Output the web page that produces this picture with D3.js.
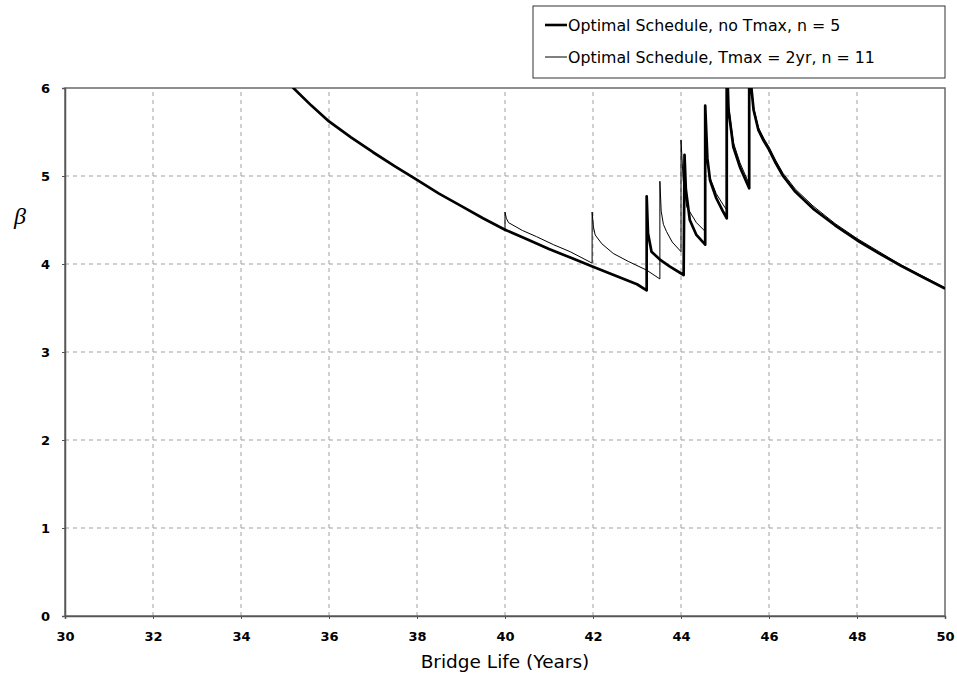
<!DOCTYPE html>
<html>
<head>
<meta charset="utf-8">
<script src="https://cdn.jsdelivr.net/npm/d3@7"></script>
<style>
  body { margin: 0; background: #fff; }
  svg { display: block; }
</style>
</head>
<body>
<svg width="957" height="685"></svg>
<script>
// values (years, beta)
const seriesNames = ["Optimal Schedule, no Tmax, n = 5", "Optimal Schedule, Tmax = 2yr, n = 11"];

const noTmaxYears = [35.0, 35.19, 35.6, 36, 36.5, 37, 37.5, 38, 38.5, 39, 39.5, 40, 40.5, 41, 41.5, 42, 42.5, 43, 43.22,
  43.22, 43.25, 43.33, 43.52, 43.75, 44.06,
  44.08, 44.11, 44.2, 44.35, 44.55,
  44.55, 44.6, 44.66, 44.8, 44.95, 45.04,
  45.04, 45.08, 45.19, 45.34, 45.55,
  45.55, 45.58, 45.65, 45.76, 45.88, 46, 46.15, 46.32, 46.6, 47, 47.5, 48, 48.5, 49, 49.5, 50];
const noTmaxBeta = [6.12, 6.0, 5.8, 5.62, 5.44, 5.27, 5.11, 4.955, 4.8, 4.66, 4.52, 4.39, 4.28, 4.17, 4.07, 3.97, 3.87, 3.77, 3.70,
  4.77, 4.35, 4.14, 4.05, 3.97, 3.875,
  5.24, 4.85, 4.5, 4.33, 4.22,
  5.8, 5.2, 4.95, 4.75, 4.6, 4.52,
  6.4, 5.75, 5.33, 5.1, 4.86,
  6.4, 6.1, 5.75, 5.52, 5.40, 5.30, 5.15, 5.0, 4.82, 4.63, 4.44, 4.27, 4.12, 3.98, 3.85, 3.72];

const tmaxYears = [35.0, 35.19, 35.6, 36, 36.5, 37, 37.5, 38, 38.5, 39, 39.5, 40,
  40, 40.03, 40.08, 40.4, 40.72, 41.1, 41.48, 41.98,
  41.98, 42.01, 42.05, 42.2, 42.46, 42.8, 43.22, 43.52,
  43.52, 43.55, 43.6, 43.67, 43.8, 44.0,
  44.0, 44.05, 44.13, 44.35, 44.55,
  44.55, 44.6, 44.66, 44.8, 44.95, 45.03,
  45.03, 45.08, 45.19, 45.34, 45.54,
  45.54, 45.58, 45.65, 45.76, 45.88, 46, 46.15, 46.32, 46.6, 47, 47.5, 48, 48.5, 49, 49.5, 50];
const tmaxBeta = [6.12, 6.0, 5.8, 5.62, 5.44, 5.27, 5.11, 4.955, 4.8, 4.66, 4.52, 4.39,
  4.59, 4.52, 4.47, 4.38, 4.31, 4.22, 4.14, 4.01,
  4.59, 4.42, 4.33, 4.23, 4.12, 4.03, 3.93, 3.83,
  4.94, 4.6, 4.45, 4.37, 4.25, 4.14,
  5.41, 4.95, 4.65, 4.47, 4.37,
  5.73, 5.2, 4.98, 4.8, 4.68, 4.62,
  6.4, 5.8, 5.38, 5.15, 4.92,
  6.4, 6.12, 5.78, 5.55, 5.43, 5.33, 5.18, 5.03, 4.85, 4.66, 4.46, 4.29, 4.14, 3.99, 3.86, 3.73];

const xTicks = [30, 32, 34, 36, 38, 40, 42, 44, 46, 48, 50];
const yTicks = [0, 1, 2, 3, 4, 5, 6];

const svg = d3.select('svg');
const margin = {left: 65, right: 12, top: 88, bottom: 69};
const W = 957, H = 685;

const x = d3.scaleLinear().domain([30, 50]).range([margin.left, W - margin.right]);
const y = d3.scaleLinear().domain([0, 6]).range([H - margin.bottom, margin.top]);

svg.append('defs').append('clipPath').attr('id', 'plotclip')
  .append('rect')
  .attr('x', x(30)).attr('y', y(6))
  .attr('width', x(50) - x(30)).attr('height', y(0) - y(6));

// grid
const grid = svg.append('g');
grid.selectAll('line.vg').data(xTicks.slice(1, -1)).enter().append('line')
  .attr('x1', d => x(d)).attr('x2', d => x(d))
  .attr('y1', y(0)).attr('y2', y(6))
  .attr('stroke', '#a0a0a0').attr('stroke-dasharray', '4,4');
grid.selectAll('line.hg').data(yTicks.slice(1, -1)).enter().append('line')
  .attr('y1', d => y(d)).attr('y2', d => y(d))
  .attr('x1', x(30)).attr('x2', x(50))
  .attr('stroke', '#a0a0a0').attr('stroke-dasharray', '4,4');

// plot frame
svg.append('rect')
  .attr('x', x(30)).attr('y', y(6))
  .attr('width', x(50) - x(30)).attr('height', y(0) - y(6))
  .attr('fill', 'none').attr('stroke', '#6a6a6a').attr('stroke-width', 1.5);

// axes
const xAxis = svg.append('g')
  .attr('transform', `translate(0,${y(0)})`)
  .call(d3.axisBottom(x).tickValues(xTicks).tickSize(3).tickPadding(13).tickFormat(d3.format('d')));
const yAxis = svg.append('g')
  .attr('transform', `translate(${x(30)},0)`)
  .call(d3.axisLeft(y).tickValues(yTicks).tickSize(3).tickPadding(12).tickFormat(d3.format('d')));
[xAxis, yAxis].forEach(a => {
  a.select('.domain').attr('stroke', '#555').attr('stroke-width', 1.5);
  a.selectAll('.tick line').attr('stroke', '#555');
  a.selectAll('.tick text')
    .attr('fill', '#000')
    .style('font-family', 'DejaVu Sans, Verdana, sans-serif')
    .style('font-weight', 'bold')
    .style('font-size', '13px');
});

// lines
const line = d3.line().x(d => x(d[0])).y(d => y(d[1]));
const plot = svg.append('g').attr('clip-path', 'url(#plotclip)');
plot.append('path')
  .datum(tmaxYears.map((v, i) => [v, tmaxBeta[i]]))
  .attr('d', line)
  .attr('fill', 'none').attr('stroke', '#000').attr('stroke-width', 1);
plot.append('path')
  .datum(noTmaxYears.map((v, i) => [v, noTmaxBeta[i]]))
  .attr('d', line)
  .attr('fill', 'none').attr('stroke', '#000').attr('stroke-width', 2.7)
  .attr('stroke-linejoin', 'round');

// axis titles
svg.append('text')
  .attr('x', (x(30) + x(50)) / 2).attr('y', 668)
  .attr('text-anchor', 'middle')
  .style('font-family', 'DejaVu Sans, Verdana, sans-serif')
  .style('font-size', '18.5px')
  .text('Bridge Life (Years)');
svg.append('text')
  .attr('x', 20).attr('y', 224)
  .attr('text-anchor', 'middle')
  .style('font-family', 'Liberation Serif, serif')
  .style('font-style', 'italic')
  .style('font-size', '24px')
  .text('β');

// legend
const legend = svg.append('g');
legend.append('rect')
  .attr('x', 533).attr('y', 6).attr('width', 412).attr('height', 72)
  .attr('fill', '#fff').attr('stroke', '#333').attr('stroke-width', 1);
const lw = [2.6, 1];
seriesNames.forEach((name, i) => {
  const ly = 25 + i * 32;
  legend.append('line')
    .attr('x1', 545).attr('x2', 567).attr('y1', ly).attr('y2', ly)
    .attr('stroke', '#000').attr('stroke-width', lw[i]);
  legend.append('text')
    .attr('x', 568).attr('y', ly + 6)
    .style('font-family', 'DejaVu Sans, Verdana, sans-serif')
    .style('font-size', '15.8px')
    .text(name);
});
</script>
</body>
</html>
